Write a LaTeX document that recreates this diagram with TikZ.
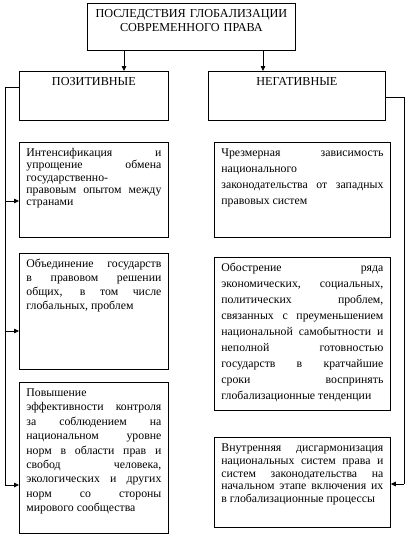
\documentclass[tikz,border=0pt]{standalone}
\usepackage{fontspec}
\setmainfont{Liberation Serif}
\usetikzlibrary{arrows.meta}

\begin{document}
\begin{tikzpicture}[x=1pt,y=-1pt,
  box/.style={draw,line width=0.8pt,anchor=north west,inner xsep=7pt,inner ysep=5pt,
    text height=9pt,align=justify,
    execute at begin node={\tolerance=10000\hbadness=10000\hyphenpenalty=10000}},
  fs/.style={font=\fontsize{11.8}{#1}\selectfont},
  arr/.style={line width=0.8pt,-{Triangle[length=5pt,width=4.5pt]}},
  rail/.style={line width=0.8pt}]
\useasboundingbox (0,0) rectangle (414,538);

% heading
\node[box,font=\fontsize{12.2}{14}\selectfont,align=center,text width=194pt,text depth=28pt] (title) at (87,3)
  {ПОСЛЕДСТВИЯ ГЛОБАЛИЗАЦИИ\\СОВРЕМЕННОГО ПРАВА};
\node[box,font=\fontsize{12.2}{14}\selectfont,align=center,text width=135pt,text depth=30pt] (pos) at (19,71) {ПОЗИТИВНЫЕ};
\node[box,font=\fontsize{12.2}{14}\selectfont,align=center,text width=163pt,text depth=30pt] (neg) at (208,71) {НЕГАТИВНЫЕ};
\draw[arr] (title.south -| 124,0) -- (pos.north -| 124,0);
\draw[arr] (title.south -| 263,0) -- (neg.north -| 263,0);

% positive column
\node[box,fs=12.3,text width=135pt,text depth=76pt] (lb1) at (19,142)
  {Интенсификация и\linebreak упрощение обмена\linebreak государственно-\linebreak
   правовым опытом между\linebreak странами};
\node[box,fs=14,text width=135pt,text depth=97pt] (lb2) at (19,253)
  {Объединение государств\linebreak в правовом решении\linebreak общих, в том числе\linebreak
   глобальных, проблем};
\node[box,fs=14.4,text width=135pt,text depth=132pt] (lb3) at (19,382)
  {Повышение\linebreak эффективности контроля\linebreak за соблюдением на\linebreak
   национальном уровне\linebreak норм в области прав и\linebreak свобод человека,\linebreak
   экологических и других\linebreak норм со стороны\linebreak мирового сообщества};

% negative column
\node[box,fs=16,text width=162pt,text depth=76pt] (rb1) at (214,142)
  {Чрезмерная зависимость\linebreak национального\linebreak законодательства от западных\linebreak
   правовых систем};
\node[box,fs=16,text width=162pt,text depth=134pt] (rb2) at (214,257)
  {Обострение ряда\linebreak экономических, социальных,\linebreak политических проблем,\linebreak
   связанных с преуменьшением\linebreak национальной самобытности и\linebreak
   неполной готовностью\linebreak государств в кратчайшие\linebreak сроки воспринять\linebreak
   глобализационные тенденции};
\node[box,fs=12.8,text width=162pt,text depth=71pt] (rb3) at (214,437)
  {Внутренняя дисгармонизация\linebreak национальных систем права и\linebreak
   систем законодательства на\linebreak начальном этапе включения их\linebreak
   в глобализационные процессы};

% rails
\coordinate (l0) at (5,87);
\coordinate (l1) at (5,201);
\coordinate (l2) at (5,331);
\coordinate (l3) at (5,485);
\draw[rail] (pos.west |- l0) -- (l0) -- (l3);
\draw[arr] (l1) -- (l1 -| lb1.west);
\draw[arr] (l2) -- (l2 -| lb2.west);
\draw[arr] (l3) -- (l3 -| lb3.west);

\coordinate (r0) at (404,97);
\coordinate (r3) at (404,484);
\draw[rail] (neg.east |- r0) -- (r0) -- (r3);
\draw[arr] (r3) -- (r3 -| rb3.east);
\end{tikzpicture}
\end{document}
